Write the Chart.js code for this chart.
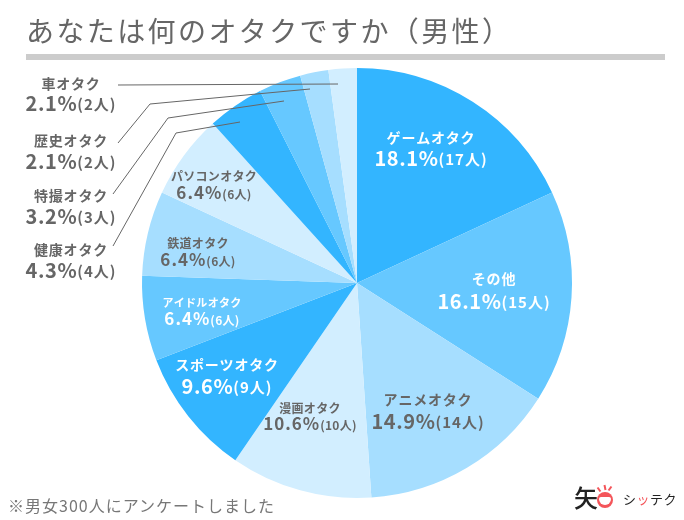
<!DOCTYPE html>
<html lang="ja">
<head>
<meta charset="UTF-8">
<title>あなたは何のオタクですか（男性）</title>
<script src="https://cdn.jsdelivr.net/npm/chart.js"></script>
<style>
    html, body { margin: 0; padding: 0; background: #fff; }
    body { width: 684px; height: 520px; position: relative; overflow: hidden; font-family: "Noto Sans CJK JP", sans-serif; color: #666; }
    #wrap { position: absolute; left: 0; top: 0; width: 684px; height: 520px; }
    h1 { position: absolute; left: 26px; top: 10px; margin: 0; font-size: 28px; line-height: 40px; font-weight: 400; letter-spacing: 2.4px; white-space: nowrap; }
    #rule { position: absolute; left: 26px; top: 54px; width: 639px; height: 6px; background: #ccc; }
    #note { position: absolute; left: 8px; top: 494px; font-size: 16px; line-height: 22px; letter-spacing: 1px; color: #777; white-space: nowrap; }
    #logo1 { position: absolute; left: 574px; top: 480px; font-size: 24px; line-height: 34px; font-weight: 500; color: #222; }
    #face { position: absolute; left: 597px; top: 492px; width: 16px; height: 16px; border-radius: 50%; background: #f4555a; }
    #face i { position: absolute; left: 2px; top: 5px; width: 12px; height: 8px; background: #fff; border-radius: 2px 2px 6px 6px; }
    .rayo { position: absolute; width: 2px; height: 5px; background: #f4555a; }
    #logo2 { position: absolute; left: 623px; top: 489px; font-size: 13px; line-height: 20px; letter-spacing: 0.5px; color: #222; white-space: nowrap; }
    #logo2 b { color: #f4555a; font-weight: 400; }
</style>
</head>
<body>
    <div id="wrap"><canvas id="chartPie" width="684" height="520"></canvas></div>
    <h1>あなたは何のオタクですか（男性）</h1>
    <div id="rule"></div>
    <div id="note">※男女300人にアンケートしました</div>
    <div id="logo1">矢</div>
    <div id="face"><i></i></div>
    <div class="rayo" style="left:604px;top:485px;transform:rotate(-12deg)"></div>
    <div class="rayo" style="left:609px;top:486px;transform:rotate(35deg)"></div>
    <div class="rayo" style="left:598px;top:487px;transform:rotate(-35deg)"></div>
    <div id="logo2">シ<b>ッ</b>テク</div>

    <script>
        const categories = ['ゲームオタク', 'その他', 'アニメオタク', '漫画オタク', 'スポーツオタク', 'アイドルオタク', '鉄道オタク', 'パソコンオタク', '健康オタク', '特撮オタク', '歴史オタク', '車オタク'];
        const counts = [17, 15, 14, 10, 9, 6, 6, 6, 4, 3, 2, 2];
        const percents = ['18.1', '16.1', '14.9', '10.6', '9.6', '6.4', '6.4', '6.4', '4.3', '3.2', '2.1', '2.1'];
        const colors = ['#33b5ff', '#66c8ff', '#a6deff', '#d2eeff', '#33b5ff', '#66c8ff', '#a6deff', '#d2eeff', '#33b5ff', '#66c8ff', '#a6deff', '#d2eeff'];

        // x centro, y nombre, y valor, tamaños, color del texto
        const etiquetas = [
            [431, 138, 158, 14, 20, '#fff'],
            [494, 279, 301, 14, 20, '#fff'],
            [428, 400, 421, 14, 20, '#666'],
            [310, 408, 424, 12, 17, '#666'],
            [227, 365, 386, 14, 20, '#fff'],
            [202, 303, 319, 11, 17, '#fff'],
            [198, 243, 260, 12, 17, '#666'],
            [214, 176, 193, 12, 17, '#666'],
            [71, 250, 270, 14, 20, '#666'],
            [71, 196, 216, 14, 20, '#666'],
            [71, 141, 161, 14, 20, '#666'],
            [71, 84, 103, 14, 20, '#666']
        ];

        const guias = [
            [[113, 246], [176, 133], [240, 122]],
            [[113, 194], [168, 118], [284, 101]],
            [[118, 143], [150, 104], [310, 89]],
            [[118, 85], [338, 84]]
        ];

        const textos = {
            id: 'textos',
            afterDraw(chart) {
                const ctx = chart.ctx;
                ctx.save();
                ctx.strokeStyle = '#666';
                ctx.lineWidth = 1;
                guias.forEach(g => {
                    ctx.beginPath();
                    g.forEach((p, i) => i ? ctx.lineTo(p[0], p[1]) : ctx.moveTo(p[0], p[1]));
                    ctx.stroke();
                });
                ctx.textBaseline = 'middle';
                categories.forEach((nombre, i) => {
                    const [x, y1, y2, s1, s2, color] = etiquetas[i];
                    ctx.fillStyle = color;
                    ctx.textAlign = 'center';
                    ctx.letterSpacing = s1 >= 14 ? '0.8px' : '0.3px';
                    ctx.font = 'bold ' + s1 + 'px "Noto Sans CJK JP"';
                    ctx.fillText(nombre, x, y1);
                    const pct = percents[i] + '%';
                    const cnt = '(' + counts[i] + '人)';
                    const s3 = Math.floor(s2 * 0.75);
                    const sp2 = s2 >= 20 ? '0.6px' : '1px';
                    const sp3 = s3 >= 15 ? '1px' : '0.3px';
                    ctx.textAlign = 'left';
                    ctx.letterSpacing = sp2;
                    ctx.font = 'bold ' + s2 + 'px "Noto Sans CJK JP"';
                    const w1 = ctx.measureText(pct).width;
                    ctx.letterSpacing = sp3;
                    ctx.font = 'bold ' + s3 + 'px "Noto Sans CJK JP"';
                    const w2 = ctx.measureText(cnt).width;
                    const x0 = x - (w1 + w2) / 2;
                    ctx.fillText(cnt, x0 + w1, y2 + 1);
                    ctx.letterSpacing = sp2;
                    ctx.font = 'bold ' + s2 + 'px "Noto Sans CJK JP"';
                    ctx.fillText(pct, x0, y2);
                });
                ctx.restore();
            }
        };

        new Chart(document.getElementById('chartPie'), {
            type: 'pie',
            data: {
                labels: categories,
                datasets: [{ data: counts, backgroundColor: colors, borderWidth: 0 }]
            },
            options: {
                responsive: false,
                animation: false,
                layout: { padding: { left: 142, right: 112, top: 68, bottom: 22 } },
                plugins: { legend: { display: false }, tooltip: { enabled: false } }
            },
            plugins: [textos]
        });
    </script>
</body>
</html>
